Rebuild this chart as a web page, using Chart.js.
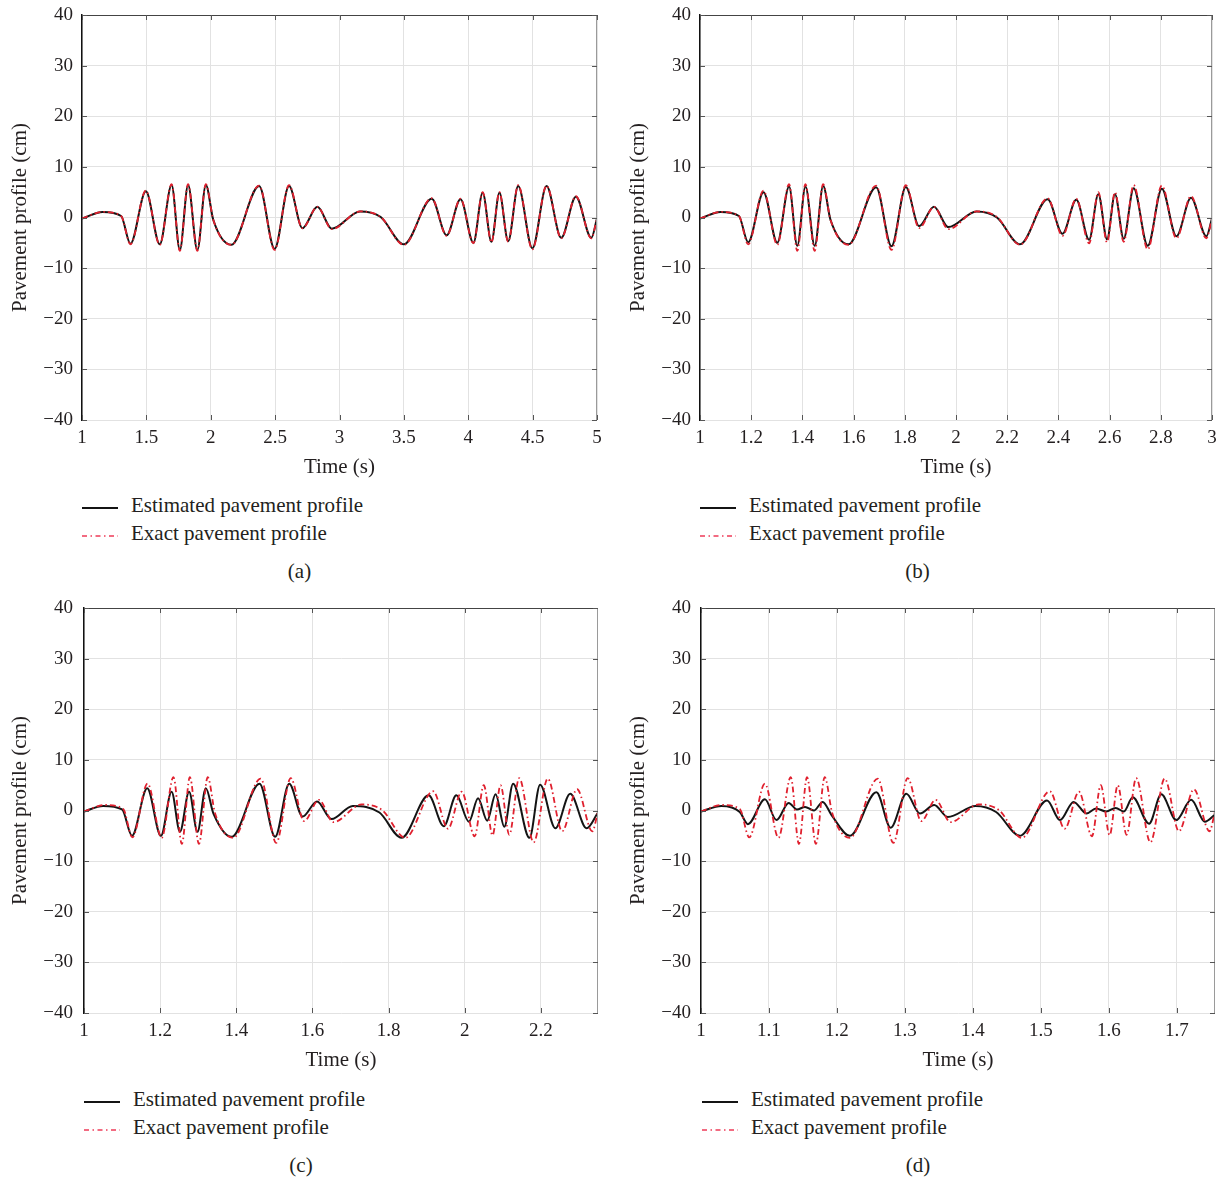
<!DOCTYPE html>
<html><head><meta charset="utf-8">
<script src="https://cdn.jsdelivr.net/npm/chart.js@4.4.0/dist/chart.umd.min.js"></script>
<style>
body{margin:0;background:#fff;width:1219px;height:1181px;position:relative;overflow:hidden;font-family:"Liberation Serif",serif;color:#231f20}
canvas{position:absolute}
.t{position:absolute;font-size:21px;line-height:21px;white-space:nowrap}
.c{transform:translateX(-50%)}
svg{position:absolute}
</style></head><body>
<canvas id="pa" width="610" height="484" style="left:0;top:0"></canvas>
<canvas id="pb" width="610" height="484" style="left:618px;top:0"></canvas>
<canvas id="pc" width="610" height="484" style="left:0;top:593px"></canvas>
<canvas id="pd" width="610" height="484" style="left:618px;top:593px"></canvas>
<div id="labels"></div>
<script>
// ---------- data ----------
const yTickValues = [-40, -30, -20, -10, 0, 10, 20, 30, 40];
const yTickLabels = ['\u221240', '\u221230', '\u221220', '\u221210', '0', '10', '20', '30', '40'];

const xTicksA = [1, 1.5, 2, 2.5, 3, 3.5, 4, 4.5, 5];
const xLabelsA = ['1', '1.5', '2', '2.5', '3', '3.5', '4', '4.5', '5'];
const xTicksB = [1, 1.2, 1.4, 1.6, 1.8, 2, 2.2, 2.4, 2.6, 2.8, 3];
const xLabelsB = ['1', '1.2', '1.4', '1.6', '1.8', '2', '2.2', '2.4', '2.6', '2.8', '3'];
const xTicksC = [1, 1.2, 1.4, 1.6, 1.8, 2, 2.2];
const xLabelsC = ['1', '1.2', '1.4', '1.6', '1.8', '2', '2.2'];
const xTicksD = [1, 1.1, 1.2, 1.3, 1.4, 1.5, 1.6, 1.7];
const xLabelsD = ['1', '1.1', '1.2', '1.3', '1.4', '1.5', '1.6', '1.7'];
const xMaxA = 5, xMaxB = 3, xMaxC = 2.35, xMaxD = 1.756;

// exact pavement profile (cm) at its turning points, same road in every panel
const exactProfile = [-0.2, 1.1, 0.3, -5.3, 5.3, -5.4, 6.6, -6.6, 6.6, -6.6, 6.6, -0.5, -5.4, 6.3, -6.4, 6.4, -2.1, 2.1, -2.3, 1.2, 0.1, -5.4, 3.8, -3.6, 3.7, -5.1, 5.0, -4.9, 5.0, -4.8, 6.4, -6.3, 6.3, -4.1, 4.2, -4.1, -0.2];

const timeExactA = [1.000, 1.160, 1.304, 1.376, 1.496, 1.604, 1.696, 1.760, 1.824, 1.896, 1.962, 2.020, 2.160, 2.376, 2.496, 2.608, 2.712, 2.828, 2.940, 3.160, 3.320, 3.500, 3.716, 3.832, 3.940, 4.040, 4.112, 4.180, 4.242, 4.310, 4.388, 4.498, 4.608, 4.722, 4.836, 4.956, 5.000];
const timeExactB = [1.000, 1.080, 1.152, 1.188, 1.248, 1.302, 1.348, 1.380, 1.412, 1.448, 1.481, 1.510, 1.580, 1.688, 1.748, 1.804, 1.856, 1.914, 1.970, 2.080, 2.160, 2.250, 2.358, 2.416, 2.470, 2.520, 2.556, 2.590, 2.621, 2.655, 2.694, 2.749, 2.804, 2.861, 2.918, 2.978, 3.000];
const timeExactC = [1.000, 1.054, 1.103, 1.127, 1.167, 1.204, 1.235, 1.257, 1.278, 1.302, 1.325, 1.344, 1.392, 1.464, 1.505, 1.543, 1.578, 1.617, 1.655, 1.729, 1.783, 1.844, 1.917, 1.956, 1.992, 2.026, 2.050, 2.073, 2.094, 2.117, 2.143, 2.181, 2.218, 2.256, 2.295, 2.335, 2.350];
const timeExactD = [1.000, 1.030, 1.057, 1.071, 1.094, 1.114, 1.132, 1.144, 1.156, 1.169, 1.182, 1.193, 1.219, 1.260, 1.283, 1.304, 1.324, 1.345, 1.367, 1.408, 1.438, 1.472, 1.513, 1.535, 1.556, 1.575, 1.588, 1.601, 1.613, 1.626, 1.640, 1.661, 1.682, 1.703, 1.725, 1.748, 1.756];

// estimated pavement profile
const timeEstA = timeExactA;
const estA = [-0.2, 1.1, 0.3, -5.2, 5.2, -5.3, 6.4, -6.4, 6.4, -6.4, 6.4, -0.5, -5.4, 6.2, -6.2, 6.2, -2.1, 2.1, -2.2, 1.2, 0.1, -5.3, 3.7, -3.5, 3.6, -5.0, 4.9, -4.8, 4.9, -4.7, 6.2, -6.1, 6.2, -4.0, 4.1, -4.0, -0.2];
const timeEstB = timeExactB;
const estB = [-0.2, 1.1, 0.3, -4.9, 5.0, -5.0, 6.1, -5.6, 6.1, -5.6, 6.2, -0.5, -5.3, 6.0, -5.7, 6.0, -1.7, 2.1, -1.9, 1.2, 0.0, -5.3, 3.6, -3.2, 3.5, -4.4, 4.6, -4.3, 4.6, -4.2, 5.8, -5.6, 5.7, -3.7, 3.9, -3.7, -0.2];
const timeEstC = [1.000, 1.050, 1.100, 1.126, 1.166, 1.202, 1.230, 1.252, 1.276, 1.298, 1.320, 1.340, 1.388, 1.461, 1.502, 1.539, 1.574, 1.612, 1.650, 1.706, 1.776, 1.834, 1.905, 1.945, 1.978, 2.011, 2.035, 2.059, 2.081, 2.104, 2.127, 2.170, 2.198, 2.238, 2.277, 2.320, 2.350];
const estC = [-0.2, 0.9, 0.2, -5.0, 4.4, -5.0, 3.7, -4.2, 3.7, -4.2, 4.4, -0.6, -5.2, 5.3, -5.2, 5.3, -1.2, 1.8, -1.7, 0.9, -0.4, -5.4, 3.0, -3.1, 3.0, -2.2, 2.4, -2.0, 3.2, -3.2, 5.3, -5.4, 5.1, -3.5, 3.3, -3.5, -0.4];
const timeEstD = [1.000, 1.030, 1.057, 1.069, 1.094, 1.111, 1.129, 1.141, 1.153, 1.166, 1.179, 1.192, 1.219, 1.258, 1.279, 1.302, 1.322, 1.343, 1.363, 1.404, 1.434, 1.469, 1.509, 1.528, 1.548, 1.567, 1.581, 1.596, 1.610, 1.622, 1.635, 1.659, 1.677, 1.699, 1.721, 1.741, 1.756];
const estD = [-0.2, 0.9, -0.3, -2.7, 2.2, -1.9, 1.5, 0.2, 0.7, 0.0, 1.7, -0.9, -5.0, 3.6, -3.4, 3.3, -0.6, 1.1, -1.3, 0.9, -0.3, -5.0, 2.0, -1.9, 1.7, -0.6, 0.4, -0.2, 0.5, -0.2, 2.6, -2.6, 3.2, -1.9, 2.1, -2.2, -0.8];

const seriesNames = ['Estimated pavement profile', 'Exact pavement profile'];
const panelNames = ['(a)', '(b)', '(c)', '(d)'];

// ---------- drawing ----------
const FONT = '"Liberation Serif", "Times New Roman", serif';
const INK = '#231f20';

const framePlugin = {
  id: 'frame',
  afterDraw(chart) {
    const {ctx, chartArea: a, scales: {x, y}} = chart;
    ctx.save();
    ctx.lineWidth = 1;
    ctx.strokeStyle = '#444';
    ctx.beginPath(); ctx.moveTo(a.left, a.top + 0.5); ctx.lineTo(a.right, a.top + 0.5); ctx.stroke();
    ctx.strokeStyle = '#9a9a9a';
    ctx.beginPath(); ctx.moveTo(a.right - 0.5, a.top); ctx.lineTo(a.right - 0.5, a.bottom); ctx.stroke();
    ctx.strokeStyle = '#555';
    ctx.beginPath();
    x.ticks.forEach(t => {
      const px = Math.round(x.getPixelForValue(t.value)) + 0.5;
      ctx.moveTo(px, a.top); ctx.lineTo(px, a.top + 5);
      ctx.moveTo(px, a.bottom); ctx.lineTo(px, a.bottom - 5);
    });
    y.ticks.forEach(t => {
      const py = Math.round(y.getPixelForValue(t.value)) + 0.5;
      ctx.moveTo(a.right, py); ctx.lineTo(a.right - 5, py);
      ctx.moveTo(a.left, py); ctx.lineTo(a.left + 5, py);
    });
    ctx.stroke();
    ctx.restore();
  }
};

function pts(ts, vs) { return ts.map((t, i) => ({x: t, y: vs[i]})); }

function makePanel(id, o) {
  new Chart(document.getElementById(id), {
    type: 'line',
    data: {
      datasets: [
        {label: seriesNames[0], data: pts(o.tE, o.vE), borderColor: '#141414', borderWidth: 2,
         pointRadius: 0, cubicInterpolationMode: 'monotone', order: 2},
        {label: seriesNames[1], data: pts(o.tX, o.vX), borderColor: '#e0202e', borderWidth: 1.8,
         borderDash: [6, 3, 1.5, 3], pointRadius: 0, cubicInterpolationMode: 'monotone', order: 1}
      ]
    },
    options: {
      responsive: false, animation: false, devicePixelRatio: 1, events: [],
      layout: {padding: {left: 0, right: o.padR, top: 15, bottom: 0}},
      plugins: {legend: {display: false}, tooltip: {enabled: false}},
      scales: {
        x: {
          type: 'linear', min: 1, max: o.xMax,
          afterBuildTicks: s => { s.ticks = o.xt.map(v => ({value: v})); },
          afterFit: s => { s.height = 64; },
          ticks: {callback: (v, i) => o.xl[i], font: {family: FONT, size: 19}, color: INK,
                  padding: 7, maxRotation: 0, autoSkip: false},
          grid: {color: '#e2e2e2', drawTicks: false, lineWidth: 1},
          border: {display: false},
          title: {display: true, text: 'Time (s)', font: {family: FONT, size: 21}, color: INK,
                  padding: {top: 0, bottom: 3.5}}
        },
        y: {
          min: -40, max: 40,
          afterBuildTicks: s => { s.ticks = yTickValues.map(v => ({value: v})); },
          afterFit: s => { s.width = o.yW; s.paddingTop = 0; s.paddingBottom = 0; },
          ticks: {callback: (v, i) => yTickLabels[i], font: {family: FONT, size: 19}, color: INK,
                  padding: o.yW - 73},
          grid: {color: '#e2e2e2', drawTicks: false, lineWidth: 1},
          border: {display: true, color: '#111', width: 1.5},
          title: {display: true, text: 'Pavement profile (cm)', font: {family: FONT, size: 21}, color: INK,
                  padding: {top: 7.4, bottom: 0}}
        }
      }
    },
    plugins: [framePlugin]
  });
}

makePanel('pa', {tE: timeEstA, vE: estA, tX: timeExactA, vX: exactProfile, xt: xTicksA, xl: xLabelsA, xMax: xMaxA, yW: 82, padR: 13});
makePanel('pb', {tE: timeEstB, vE: estB, tX: timeExactB, vX: exactProfile, xt: xTicksB, xl: xLabelsB, xMax: xMaxB, yW: 82, padR: 16});
makePanel('pc', {tE: timeEstC, vE: estC, tX: timeExactC, vX: exactProfile, xt: xTicksC, xl: xLabelsC, xMax: xMaxC, yW: 84, padR: 12});
makePanel('pd', {tE: timeEstD, vE: estD, tX: timeExactD, vX: exactProfile, xt: xTicksD, xl: xLabelsD, xMax: xMaxD, yW: 83, padR: 13});

// legends and panel captions (HTML text)
const holder = document.getElementById('labels');
const blocks = [[82, 0, 299.5], [700, 0, 917.5], [84, 594, 301], [702, 594, 918]];
blocks.forEach(([lx, dy, cx], k) => {
  const rows = [[512.3 + dy, false], [540.3 + dy, true]];
  rows.forEach(([base, dashed], r) => {
    const svg = document.createElementNS('http://www.w3.org/2000/svg', 'svg');
    svg.setAttribute('width', '36'); svg.setAttribute('height', '6');
    svg.style.left = lx + 'px'; svg.style.top = (base - 4.5 - 3) + 'px';
    const ln = document.createElementNS('http://www.w3.org/2000/svg', 'line');
    ln.setAttribute('x1', '0'); ln.setAttribute('x2', '36'); ln.setAttribute('y1', '3'); ln.setAttribute('y2', '3');
    ln.setAttribute('stroke', dashed ? '#ee3b58' : '#141414');
    ln.setAttribute('stroke-width', dashed ? '1.5' : '1.8');
    if (dashed) ln.setAttribute('stroke-dasharray', '5 3.5 1.5 3.5');
    svg.appendChild(ln);
    holder.appendChild(svg);
    const d = document.createElement('div');
    d.className = 't'; d.textContent = seriesNames[r];
    d.style.left = (lx + 49) + 'px'; d.style.top = (base - 17.6) + 'px';
    holder.appendChild(d);
  });
  const cap = document.createElement('div');
  cap.className = 't c'; cap.textContent = panelNames[k];
  cap.style.left = cx + 'px'; cap.style.top = (579 + dy - 17.6) + 'px';
  holder.appendChild(cap);
});
</script>
</body></html>
